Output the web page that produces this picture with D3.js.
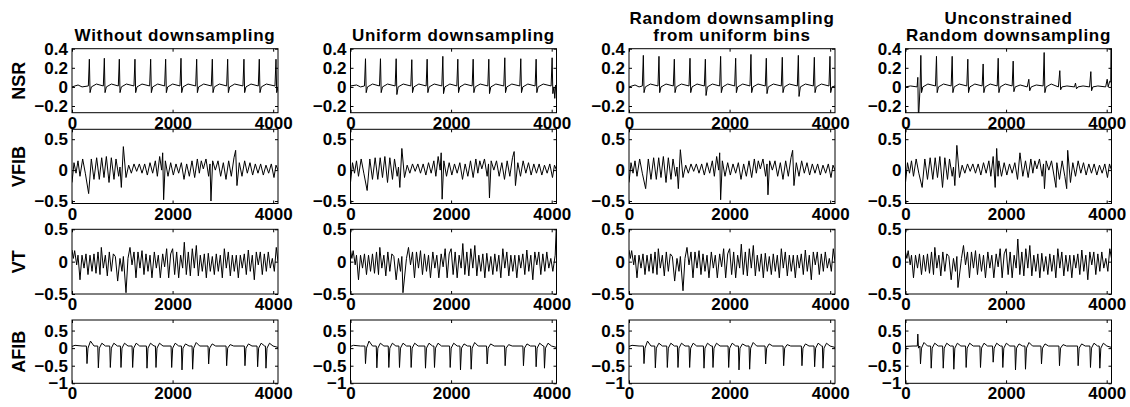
<!DOCTYPE html>
<html>
<head>
<meta charset="utf-8">
<script src="https://cdnjs.cloudflare.com/ajax/libs/d3/7.8.5/d3.min.js"></script>
<style>
body { margin: 0; background: #fff; }
text { font-family: "Liberation Sans", Arial, sans-serif; font-weight: bold; fill: #000; }
</style>
</head>
<body>
<script>
// ecg grid: rows = rhythm, columns = sampling method

var rowNames = ["NSR", "VFIB", "VT", "AFIB"];
var colTitles = [["Without downsampling"], ["Uniform downsampling"],
    ["Random downsampling", "from uniform bins"], ["Unconstrained", "Random downsampling"]];
var xTicks = [0, 2000, 4000];
var xMax = 4096;
var yTicks = [[-0.2, 0, 0.2, 0.4], [-0.5, 0, 0.5], [-0.5, 0, 0.5], [-1, -0.5, 0, 0.5]];
var yRanges = [[-0.27, 0.4], [-0.54, 0.66], [-0.5, 0.5], [-1, 0.8]];

// NSR traces [sample, mV]
var nsr1 = [[0,0],[120,0.02],[200,0],
 [325,0.01],[345,0.29],[359,-0.06],[385,0],[485,0.03],
 [623,0.01],[643,0.3],[657,-0.06],[683,0],[783,0.03],
 [921,0.01],[941,0.29],[955,-0.06],[981,0],[1081,0.03],
 [1232,0.01],[1252,0.29],[1266,-0.06],[1292,0],[1392,0.03],
 [1544,0.01],[1564,0.29],[1578,-0.06],[1604,0],[1704,0.03],
 [1842,0.01],[1862,0.29],[1876,-0.06],[1902,0],[2002,0.03],
 [2147,0.01],[2167,0.3],[2181,-0.06],[2207,0],[2307,0.03],
 [2459,0.01],[2479,0.29],[2493,-0.06],[2519,0],[2619,0.03],
 [2770,0.01],[2790,0.29],[2804,-0.06],[2830,0],[2930,0.03],
 [3075,0.01],[3095,0.29],[3109,-0.06],[3135,0],[3235,0.03],
 [3399,0.01],[3419,0.29],[3433,-0.06],[3459,0],[3559,0.03],
 [3704,0.01],[3724,0.29],[3738,-0.06],[3764,0],[3864,0.03],
 [4036,0.01],[4056,0.29],[4070,-0.06],[4096,0]];
var nsr2 = [[0,0.01],[120,0.02],[200,0],
 [278,0.01],[298,0.295],[312,-0.06],[338,0],[438,0.03],
 [576,0.01],[596,0.295],[610,-0.06],[636,0],[736,0.03],
 [888,0.01],[908,0.295],[922,-0.08],[948,0],[1048,0.03],
 [1199,0.01],[1219,0.285],[1233,-0.06],[1259,0],[1359,0.03],
 [1504,0.01],[1524,0.29],[1538,-0.06],[1564,0],[1664,0.03],
 [1816,0.01],[1836,0.32],[1850,-0.07],[1876,0],[1976,0.03],
 [2114,0.01],[2134,0.29],[2148,-0.06],[2174,0],[2274,0.03],
 [2419,0.01],[2439,0.29],[2453,-0.06],[2479,0],[2579,0.03],
 [2730,0.01],[2750,0.29],[2764,-0.07],[2790,0],[2890,0.03],
 [3048,0.01],[3068,0.305],[3082,-0.06],[3108,0],[3208,0.03],
 [3366,0.01],[3386,0.295],[3400,-0.06],[3426,0],[3526,0.03],
 [3671,0.01],[3691,0.29],[3705,-0.06],[3731,0],[3831,0.03],
 [3989,0.01],[4009,0.305],[4023,-0.07],[4045,0],[4062,-0.12],[4080,0.02],[4096,0]];
var nsr3 = [[0,0],[120,0.02],[200,0],
 [265,0.01],[285,0.33],[299,-0.06],[325,0],[425,0.03],
 [576,0.01],[596,0.32],[610,-0.06],[636,0],[736,0.03],
 [881,0.01],[901,0.29],[915,-0.06],[941,0],[1041,0.03],
 [1193,0.01],[1213,0.3],[1227,-0.06],[1253,0],[1353,0.03],
 [1498,0.01],[1518,0.29],[1532,-0.09],[1558,0],[1658,0.03],
 [1802,0.01],[1822,0.32],[1836,-0.06],[1862,0],[1962,0.03],
 [2101,0.01],[2121,0.3],[2135,-0.06],[2161,0],[2261,0.03],
 [2405,0.01],[2425,0.34],[2439,-0.06],[2465,0],[2565,0.03],
 [2710,0.01],[2730,0.3],[2744,-0.07],[2770,0],[2870,0.03],
 [3028,0.01],[3048,0.31],[3062,-0.06],[3088,0],[3188,0.03],
 [3347,0.01],[3367,0.33],[3381,-0.1],[3407,0],[3507,0.03],
 [3665,0.01],[3685,0.31],[3699,-0.06],[3725,0],[3825,0.03],
 [3976,0.01],[3996,0.32],[4010,-0.06],[4036,0],[4096,0.01]];
var nsr4 = [[0,0],[100,0.01],[230,0.0],[245,0.1],[258,-0.35],[290,0],
 [305,0.33],[319,-0.06],[345,0],[445,0.03],
 [596,0.01],[616,0.32],[630,-0.06],[656,0],[756,0.03],
 [908,0.01],[928,0.32],[942,-0.06],[968,0],[1068,0.03],
 [1219,0.01],[1239,0.29],[1253,-0.06],[1279,0],[1379,0.03],
 [1524,0.01],[1544,0.24],[1558,-0.06],[1584,0],[1684,0.03],
 [1823,0.01],[1843,0.3],[1857,-0.06],[1883,0],[1983,0.03],
 [2121,0.01],[2141,0.27],[2155,-0.05],[2181,0],[2281,0.02],
 [2420,0.0],[2452,0.08],[2470,-0.04],[2500,0],[2600,0.02],
 [2737,0.01],[2757,0.36],[2771,-0.06],[2797,0],[2897,0.03],
 [3040,0.0],[3068,0.17],[3085,-0.03],[3110,0],[3210,0.01],
 [3360,0.0],[3380,0.04],[3400,-0.02],[3430,0],[3530,0.01],
 [3660,0.0],[3685,0.16],[3700,-0.04],[3725,0],[3825,0.01],
 [3980,0.0],[4010,0.08],[4030,0.0],[4060,0.06],[4082,0.05],[4090,0.45],[4096,-0.3]];

// VFIB traces
var vfib1 = [[0,-0.2],[40,0.12],[80,-0.05],[119,0.15],[159,-0.1],[212,0.18],[265,-0.05],[331,-0.38],
 [384,0.18],[437,-0.15],[490,0.2],[543,-0.15],[590,0.2],[636,-0.12],[683,0.22],[736,-0.2],[782,0.2],
 [835,-0.15],[875,0.18],[928,-0.1],[954,0.05],[981,-0.28],[1021,0.38],[1074,-0.12],[1127,0.08],
 [1180,-0.05],[1233,0.1],[1286,-0.02],[1339,0.1],[1392,-0.05],[1445,0.1],[1498,-0.08],[1551,0.12],
 [1604,-0.05],[1657,0.15],[1697,-0.1],[1743,0.22],[1783,0],[1803,0.28],[1822,-0.48],[1856,0.15],
 [1909,-0.1],[1962,0.12],[2015,-0.08],[2068,0.1],[2121,-0.05],[2174,0.12],[2227,-0.15],[2280,0.1],
 [2333,-0.1],[2386,0.15],[2439,-0.12],[2492,0.18],[2532,-0.05],[2571,0.15],[2611,0.02],[2664,0.18],
 [2717,-0.1],[2744,0.1],[2763,-0.5],[2797,0.15],[2850,0],[2903,0.15],[2956,-0.1],[3009,0.12],
 [3062,-0.15],[3115,0.15],[3168,-0.1],[3221,0.2],[3254,0.32],[3280,-0.25],[3327,0.12],[3380,-0.1],
 [3433,0.15],[3486,-0.05],[3539,0.12],[3592,-0.08],[3645,0.1],[3698,-0.05],[3751,0.1],[3804,-0.08],
 [3857,0.08],[3910,-0.05],[3963,0.1],[4016,-0.12],[4056,0.08],[4096,0]];
var vfib2 = [[0,-0.2],[40,0.12],[80,-0.05],[119,0.15],[159,-0.1],[212,0.18],[265,-0.05],[331,-0.33],
 [384,0.18],[437,-0.15],[490,0.2],[543,-0.15],[590,0.2],[636,-0.12],[683,0.22],[736,-0.2],[782,0.2],
 [835,-0.15],[875,0.18],[928,-0.1],[954,0.05],[981,-0.28],[1021,0.35],[1074,-0.12],[1127,0.08],
 [1180,-0.05],[1233,0.1],[1286,-0.02],[1339,0.1],[1392,-0.05],[1445,0.1],[1498,-0.08],[1551,0.12],
 [1604,-0.05],[1657,0.15],[1697,-0.1],[1743,0.22],[1783,0],[1803,0.28],[1822,-0.47],[1856,0.15],
 [1909,-0.1],[1962,0.12],[2015,-0.08],[2068,0.1],[2121,-0.05],[2174,0.12],[2227,-0.15],[2280,0.1],
 [2333,-0.1],[2386,0.15],[2439,-0.12],[2492,0.18],[2532,-0.05],[2571,0.15],[2611,0.02],[2664,0.18],
 [2717,-0.1],[2744,0.1],[2763,-0.45],[2797,0.15],[2850,0],[2903,0.15],[2956,-0.1],[3009,0.12],
 [3062,-0.15],[3115,0.15],[3168,-0.1],[3221,0.2],[3254,0.3],[3280,-0.25],[3327,0.12],[3380,-0.1],
 [3433,0.15],[3486,-0.05],[3539,0.12],[3592,-0.08],[3645,0.1],[3698,-0.05],[3751,0.1],[3804,-0.08],
 [3857,0.08],[3910,-0.05],[3963,0.1],[4016,-0.12],[4056,0.08],[4096,0]];
var vfib3 = [[0,-0.2],[40,0.12],[80,-0.05],[119,0.15],[159,-0.1],[212,0.18],[265,-0.05],[331,-0.3],
 [384,0.18],[437,-0.15],[490,0.2],[543,-0.15],[590,0.2],[636,-0.12],[683,0.22],[736,-0.2],[782,0.2],
 [835,-0.15],[875,0.18],[928,-0.1],[954,0.05],[981,-0.3],[1021,0.33],[1074,-0.12],[1127,0.08],
 [1180,-0.05],[1233,0.1],[1286,-0.02],[1339,0.1],[1392,-0.05],[1445,0.1],[1498,-0.08],[1551,0.12],
 [1604,-0.05],[1657,0.15],[1697,-0.1],[1743,0.22],[1783,0],[1803,0.28],[1822,-0.48],[1856,0.15],
 [1909,-0.1],[1962,0.12],[2015,-0.08],[2068,0.1],[2121,-0.05],[2174,0.12],[2227,-0.15],[2280,0.1],
 [2333,-0.1],[2386,0.15],[2439,-0.12],[2492,0.18],[2532,-0.05],[2571,0.15],[2611,0.02],[2664,0.18],
 [2717,-0.1],[2744,0.1],[2763,-0.4],[2797,0.15],[2850,0],[2903,0.15],[2956,-0.1],[3009,0.12],
 [3062,-0.15],[3115,0.15],[3168,-0.1],[3221,0.2],[3254,0.32],[3280,-0.25],[3327,0.12],[3380,-0.1],
 [3433,0.15],[3486,-0.05],[3539,0.12],[3592,-0.08],[3645,0.1],[3698,-0.05],[3751,0.1],[3804,-0.08],
 [3857,0.08],[3910,-0.05],[3963,0.1],[4016,-0.12],[4056,0.08],[4096,0]];
var vfib4 = [[0,-0.2],[40,0.12],[80,-0.05],[119,0.15],[159,-0.1],[212,0.18],[265,-0.05],[331,-0.28],
 [384,0.18],[437,-0.15],[490,0.2],[543,-0.15],[590,0.2],[636,-0.12],[683,0.22],[736,-0.28],[782,0.2],
 [835,-0.15],[875,0.18],[928,-0.1],[954,0.05],[981,-0.25],[1021,0.4],[1074,-0.12],[1127,0.08],
 [1180,-0.05],[1233,0.1],[1286,-0.02],[1339,0.1],[1392,-0.05],[1445,0.1],[1498,-0.08],[1551,0.12],
 [1604,-0.05],[1657,0.15],[1697,-0.1],[1743,0.22],[1783,-0.28],[1813,0.35],[1840,-0.1],[1856,0.15],
 [1909,-0.1],[1962,0.12],[2015,-0.08],[2068,0.1],[2121,-0.05],[2174,0.12],[2227,-0.15],[2276,0.28],
 [2333,-0.1],[2386,0.15],[2439,-0.12],[2492,0.18],[2532,-0.05],[2571,0.15],[2611,0.02],[2664,0.18],
 [2717,-0.1],[2744,0.1],[2763,-0.3],[2797,0.15],[2850,0],[2903,0.15],[2992,-0.28],[3009,0.12],
 [3062,-0.15],[3115,0.15],[3168,-0.1],[3205,-0.3],[3225,0.32],[3280,-0.2],[3327,0.12],[3380,-0.1],
 [3433,0.15],[3486,-0.05],[3539,0.12],[3592,-0.08],[3645,0.1],[3698,-0.05],[3751,0.1],[3804,-0.08],
 [3857,0.08],[3910,-0.05],[3963,0.1],[4016,-0.12],[4056,0.1],[4096,0]];

// VT traces
var vt1 = [[0,0.18],[27,0.05],[53,0.17],[93,-0.05],[119,0.1],[159,-0.28],[199,0.1],[239,-0.1],
 [278,0.12],[318,-0.2],[358,0.1],[398,-0.15],[437,0.12],[477,-0.18],[517,0.15],[557,-0.2],[583,0.22],
 [623,-0.1],[663,0.1],[702,-0.22],[742,0.15],[782,-0.15],[822,0.12],[862,0.08],[908,-0.3],[954,0.05],
 [994,-0.15],[1021,0.08],[1074,-0.48],[1113,0.05],[1153,0.22],[1193,-0.05],[1233,0.15],[1272,-0.25],
 [1312,0.15],[1352,-0.1],[1392,0.17],[1431,-0.2],[1471,0.12],[1511,-0.15],[1551,0.1],[1590,-0.25],
 [1637,0.15],[1677,-0.1],[1716,0.1],[1756,-0.25],[1803,0.12],[1842,-0.08],[1882,0.2],[1922,-0.25],
 [1962,0.12],[2001,0.2],[2041,-0.2],[2081,0.15],[2121,-0.25],[2160,0.1],[2200,-0.1],[2233,0.3],
 [2273,-0.2],[2313,0.15],[2353,-0.22],[2392,0.2],[2432,-0.1],[2472,0.25],[2512,-0.22],[2551,0.1],
 [2591,-0.15],[2631,0.12],[2671,-0.25],[2710,0.13],[2750,-0.15],[2790,0.08],[2830,-0.2],[2869,0.12],
 [2909,-0.15],[2949,0.1],[2989,-0.25],[3029,0.2],[3068,-0.1],[3108,0.15],[3148,-0.22],[3188,0.1],
 [3227,-0.15],[3267,0.1],[3307,-0.25],[3347,0.1],[3386,-0.1],[3426,0.12],[3466,-0.2],[3506,0.18],
 [3545,-0.15],[3585,0.1],[3625,-0.28],[3665,0.15],[3704,-0.05],[3744,0.15],[3784,-0.2],[3824,0.12],
 [3864,-0.15],[3903,0.15],[3943,-0.1],[3983,0.05],[4023,-0.15],[4062,0.22],[4096,0]];
var vt2 = [[0,0.18],[27,0.05],[53,0.17],[93,-0.05],[119,0.1],[159,-0.28],[199,0.1],[239,-0.1],
 [278,0.12],[318,-0.2],[358,0.1],[398,-0.15],[437,0.12],[477,-0.18],[517,0.15],[557,-0.2],[583,0.22],
 [623,-0.1],[663,0.1],[702,-0.22],[742,0.15],[782,-0.15],[822,0.12],[862,0.08],[908,-0.28],[954,0.05],
 [994,-0.15],[1021,0.08],[1043,-0.48],[1113,0.05],[1153,0.22],[1193,-0.05],[1233,0.15],[1272,-0.25],
 [1312,0.15],[1352,-0.1],[1392,0.17],[1431,-0.2],[1471,0.12],[1511,-0.15],[1551,0.1],[1590,-0.25],
 [1637,0.15],[1677,-0.1],[1716,0.1],[1756,-0.25],[1803,0.12],[1842,-0.08],[1882,0.2],[1922,-0.25],
 [1962,0.12],[2001,0.2],[2041,-0.2],[2081,0.15],[2121,-0.25],[2160,0.1],[2200,-0.1],[2233,0.28],
 [2273,-0.2],[2313,0.15],[2353,-0.22],[2392,0.2],[2432,-0.1],[2472,0.25],[2512,-0.22],[2551,0.1],
 [2591,-0.15],[2631,0.12],[2671,-0.25],[2710,0.13],[2750,-0.15],[2790,0.08],[2830,-0.2],[2869,0.12],
 [2909,-0.15],[2949,0.1],[2989,-0.25],[3029,0.2],[3068,-0.1],[3108,0.15],[3148,-0.22],[3188,0.1],
 [3227,-0.15],[3267,0.1],[3307,-0.25],[3347,0.1],[3386,-0.1],[3426,0.12],[3466,-0.2],[3506,0.18],
 [3545,-0.15],[3585,0.1],[3625,-0.28],[3665,0.15],[3704,-0.05],[3744,0.15],[3784,-0.2],[3824,0.12],
 [3864,-0.15],[3903,0.15],[3943,-0.1],[3983,0.05],[4023,-0.15],[4070,0.1],[4090,0.5]];
var vt3 = [[0,0.18],[27,0.05],[53,0.17],[93,-0.05],[119,0.1],[159,-0.25],[199,0.1],[239,-0.1],
 [278,0.12],[318,-0.2],[358,0.1],[398,-0.15],[437,0.12],[477,-0.18],[517,0.15],[557,-0.2],[583,0.2],
 [623,-0.1],[663,0.1],[702,-0.22],[742,0.15],[782,-0.15],[822,0.12],[862,0.08],[908,-0.3],[954,0.05],
 [994,-0.15],[1021,0.08],[1074,-0.45],[1113,0.05],[1153,0.22],[1193,-0.05],[1233,0.15],[1272,-0.25],
 [1312,0.15],[1352,-0.1],[1392,0.17],[1431,-0.2],[1471,0.12],[1511,-0.15],[1551,0.1],[1590,-0.25],
 [1637,0.15],[1677,-0.1],[1716,0.1],[1756,-0.25],[1803,0.12],[1842,-0.08],[1882,0.2],[1922,-0.25],
 [1962,0.12],[2001,0.2],[2041,-0.2],[2081,0.15],[2121,-0.25],[2160,0.1],[2200,-0.1],[2233,0.27],
 [2273,-0.2],[2313,0.15],[2353,-0.22],[2392,0.2],[2432,-0.1],[2472,0.25],[2512,-0.22],[2551,0.1],
 [2591,-0.15],[2631,0.12],[2671,-0.25],[2710,0.13],[2750,-0.15],[2790,0.08],[2830,-0.2],[2869,0.12],
 [2909,-0.15],[2949,0.1],[2989,-0.25],[3029,0.2],[3068,-0.1],[3108,0.15],[3148,-0.22],[3188,0.1],
 [3227,-0.15],[3267,0.1],[3307,-0.25],[3347,0.1],[3386,-0.1],[3426,0.12],[3466,-0.2],[3506,0.18],
 [3545,-0.15],[3585,0.1],[3625,-0.28],[3665,0.15],[3704,-0.05],[3744,0.15],[3784,-0.2],[3824,0.12],
 [3864,-0.15],[3903,0.15],[3943,-0.1],[3983,0.05],[4023,-0.15],[4062,0.2],[4096,0]];
var vt4 = [[0,0.15],[27,0.05],[53,0.17],[93,-0.05],[119,0.1],[159,-0.25],[199,0.1],[239,-0.1],
 [278,0.12],[318,-0.2],[358,0.1],[398,-0.15],[437,0.12],[477,-0.18],[517,0.15],[557,-0.2],[583,0.22],
 [623,-0.1],[663,0.1],[702,-0.22],[742,0.15],[782,-0.15],[822,0.12],[862,0.08],[908,-0.28],[954,0.05],
 [994,-0.15],[1021,0.08],[1043,-0.4],[1113,0.05],[1153,0.25],[1193,-0.05],[1233,0.15],[1272,-0.25],
 [1312,0.15],[1352,-0.1],[1392,0.17],[1431,-0.2],[1471,0.12],[1511,-0.15],[1551,0.1],[1590,-0.25],
 [1637,0.15],[1677,-0.1],[1716,0.1],[1756,-0.25],[1803,0.12],[1842,-0.08],[1882,0.2],[1922,-0.25],
 [1962,0.12],[2001,0.2],[2041,-0.2],[2081,0.15],[2121,-0.25],[2160,0.1],[2200,-0.1],[2233,0.35],
 [2273,-0.2],[2313,0.15],[2353,-0.22],[2392,0.2],[2432,-0.1],[2472,0.25],[2512,-0.22],[2551,0.1],
 [2591,-0.15],[2631,0.12],[2671,-0.25],[2710,0.13],[2750,-0.15],[2790,0.08],[2830,-0.2],[2869,0.12],
 [2909,-0.15],[2949,0.1],[2989,-0.25],[3029,0.2],[3068,-0.1],[3108,0.15],[3148,-0.22],[3188,0.1],
 [3227,-0.15],[3267,0.1],[3307,-0.25],[3347,0.1],[3386,-0.1],[3426,0.12],[3466,-0.2],[3506,0.18],
 [3545,-0.15],[3585,0.1],[3625,-0.28],[3665,0.15],[3704,-0.05],[3744,0.15],[3784,-0.2],[3824,0.12],
 [3864,-0.15],[3903,0.15],[3943,-0.1],[3983,0.05],[4023,-0.15],[4062,0.2],[4096,0.05]];

// AFIB traces
var afib1 = [[0,0.05],[60,0.08],[200,0.06],
 [286,0.06],[298,-0.44],[318,0],[368,0.2],[438,0.06],
 [512,0.06],[524,-0.56],[544,0],[594,0.14],[664,0.06],
 [750,0.06],[762,-0.55],[782,0],[832,0.14],[902,0.06],
 [962,0.06],[974,-0.55],[994,0],[1044,0.14],[1114,0.06],
 [1194,0.06],[1206,-0.55],[1226,0],[1276,0.14],[1346,0.06],
 [1479,0.06],[1491,-0.57],[1511,0],[1561,0.14],[1631,0.06],
 [1658,0.06],[1670,-0.55],[1690,0],[1740,0.14],[1810,0.06],
 [1970,0.06],[1982,-0.55],[2002,0],[2052,0.14],[2122,0.06],
 [2175,0.06],[2187,-0.62],[2207,0],[2257,0.12],[2327,0.06],
 [2387,0.06],[2399,-0.6],[2419,0],[2469,0.16],[2539,0.06],
 [2705,0.06],[2717,-0.45],[2737,0],[2787,0.12],[2857,0.06],
 [3063,0.06],[3075,-0.5],[3095,0],[3145,0.1],[3215,0.06],
 [3427,0.06],[3439,-0.5],[3459,0],[3509,0.12],[3579,0.06],
 [3679,0.06],[3691,-0.53],[3711,0],[3761,0.14],[3831,0.06],
 [3845,0.06],[3857,-0.57],[3877,0],[3927,0.14],[3997,0.06],[4096,0.02]];
var afib4 = [[0,-0.45],[8,0.05],[150,0.06],[235,0.06],[245,0.4],[258,0.0],[286,0.06],
 [298,-0.45],[318,0],[368,0.16],[438,0.06],
 [499,0.06],[511,-0.57],[531,0],[581,0.14],[651,0.06],
 [738,0.06],[750,-0.57],[770,0],[820,0.14],[890,0.06],
 [949,0.06],[961,-0.6],[981,0],[1031,0.14],[1101,0.06],
 [1194,0.06],[1206,-0.55],[1226,0],[1276,0.14],[1346,0.06],
 [1479,0.06],[1491,-0.55],[1511,0],[1561,0.14],[1631,0.06],
 [1731,0.06],[1743,-0.4],[1763,0],[1813,0.14],[1883,0.06],
 [1923,0.06],[1935,-0.55],[1955,0],[2005,0.14],[2075,0.06],
 [2175,0.06],[2187,-0.62],[2207,0],[2257,0.12],[2327,0.06],
 [2374,0.06],[2386,-0.6],[2406,0],[2456,0.16],[2526,0.06],
 [2692,0.06],[2704,-0.45],[2724,0],[2774,0.12],[2844,0.06],
 [3050,0.06],[3062,-0.5],[3082,0],[3132,0.1],[3202,0.06],
 [3421,0.06],[3433,-0.5],[3453,0],[3503,0.12],[3573,0.06],
 [3666,0.06],[3678,-0.55],[3698,0],[3748,0.14],[3818,0.06],
 [3852,0.06],[3864,-0.57],[3884,0],[3934,0.14],[4004,0.06],[4096,0.02]];

var traces = [
    [nsr1, nsr2, nsr3, nsr4],
    [vfib1, vfib2, vfib3, vfib4],
    [vt1, vt2, vt3, vt4],
    [afib1, afib1, afib1, afib4]
];

window.onload = drawGrid();

function drawGrid(){
    var width = 1130, height = 407;
    var colLeft = [72, 350.5, 629, 905.5], panelW = 206;
    var rowTop = [48.7, 129.3, 229.3, 320], rowBottom = [112.7, 203.5, 294, 383.3];
    var tickLen = 3;

    var svg = d3.select("body")
        .append("svg")
        .attr("width", width)
        .attr("height", height);

    var fmt = d3.format("");

    //column titles (one or two lines)
    colTitles.forEach(function(lines, c){
        var cx = colLeft[c] + panelW / 2;
        lines.forEach(function(t, i){
            svg.append("text")
                .attr("x", cx)
                .attr("y", lines.length == 1 ? 40.7 : 24 + i * 17.3)
                .attr("text-anchor", "middle")
                .style("font-size", "17px")
                .style("letter-spacing", "0.7px")
                .text(t);
        });
    });

    rowNames.forEach(function(name, r){
        //row label, rotated
        svg.append("text")
            .attr("transform", "translate(25," + ((rowTop[r] + rowBottom[r]) / 2) + ") rotate(-90)")
            .attr("text-anchor", "middle")
            .style("font-size", "18px")
            .text(name);

        for (var c = 0; c < 4; c++){
            var x = d3.scaleLinear().domain([0, xMax]).range([colLeft[c], colLeft[c] + panelW]);
            var y = d3.scaleLinear().domain(yRanges[r]).range([rowBottom[r], rowTop[r]]);
            var g = svg.append("g");

            var clipId = "clip" + r + "_" + c;
            svg.append("clipPath").attr("id", clipId)
                .append("rect")
                .attr("x", colLeft[c]).attr("y", rowTop[r])
                .attr("width", panelW).attr("height", rowBottom[r] - rowTop[r]);

            //signal
            var line = d3.line()
                .x(function(d){ return x(d[0]); })
                .y(function(d){ return y(d[1]); });
            g.append("path")
                .datum(traces[r][c])
                .attr("clip-path", "url(#" + clipId + ")")
                .attr("d", line)
                .attr("fill", "none")
                .attr("stroke", "#000")
                .attr("stroke-width", 1);

            //axes, ticks pointing inward on all sides
            g.append("g")
                .attr("transform", "translate(0," + rowBottom[r] + ")")
                .call(d3.axisBottom(x).tickValues(xTicks).tickSize(-tickLen).tickSizeOuter(0).tickPadding(4).tickFormat(fmt));
            g.append("g")
                .attr("transform", "translate(" + colLeft[c] + ",0)")
                .call(d3.axisLeft(y).tickValues(yTicks[r]).tickSize(-tickLen).tickSizeOuter(0).tickPadding(4).tickFormat(fmt));
            g.append("g")
                .attr("transform", "translate(0," + rowTop[r] + ")")
                .call(d3.axisTop(x).tickValues(xTicks).tickSize(-tickLen).tickSizeOuter(0).tickFormat(""));
            g.append("g")
                .attr("transform", "translate(" + (colLeft[c] + panelW) + ",0)")
                .call(d3.axisRight(y).tickValues(yTicks[r]).tickSize(-tickLen).tickSizeOuter(0).tickFormat(""));

            g.selectAll(".tick text")
                .style("font-size", "17px")
                .style("font-family", "'Liberation Sans', Arial, sans-serif")
                .style("font-weight", "bold");
            g.selectAll(".domain").attr("stroke", "none");
            g.selectAll(".tick line").attr("stroke", "#000");

            //box
            g.append("rect")
                .attr("x", colLeft[c]).attr("y", rowTop[r])
                .attr("width", panelW).attr("height", rowBottom[r] - rowTop[r])
                .attr("fill", "none")
                .attr("stroke", "#000")
                .attr("stroke-width", 1);
        }
    });
}
</script>
</body>
</html>
